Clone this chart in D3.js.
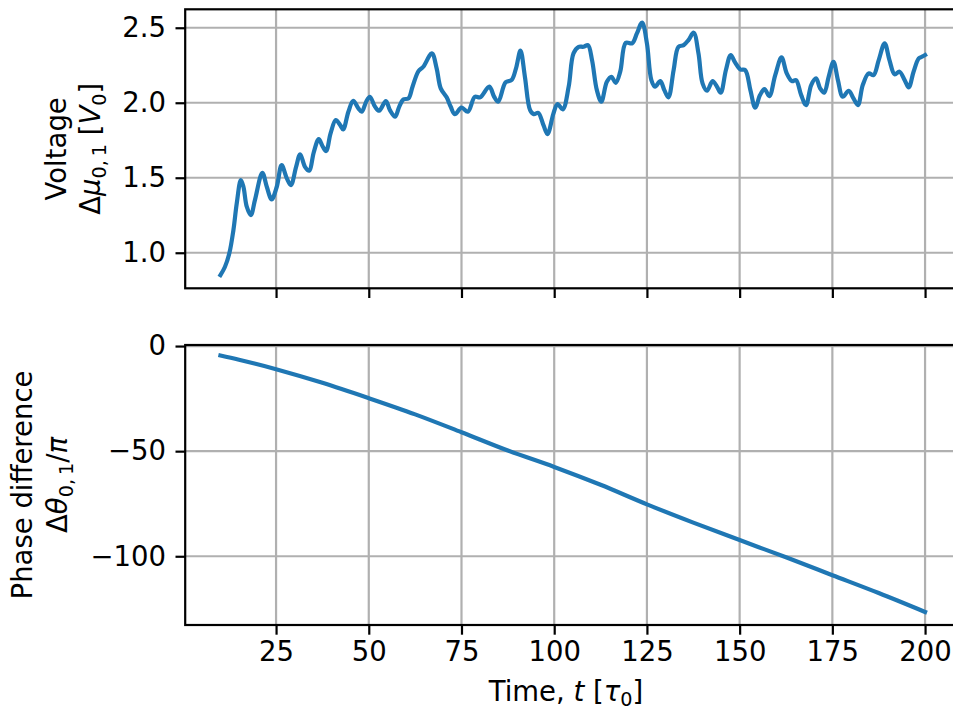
<!DOCTYPE html>
<html>
<head>
<meta charset="utf-8">
<script src="https://cdn.jsdelivr.net/npm/d3@7"></script>
<style>
  html, body { margin: 0; padding: 0; background: #ffffff; }
  svg { display: block; font-family: "DejaVu Sans", sans-serif; }
</style>
</head>
<body>
<svg id="chart" width="953" height="712"></svg>
<script>
// Voltage trace Δμ(0,1) over time
const voltTime = [10, 11.2, 12.4, 13.5, 14.4, 15.5, 16.2, 17.1, 18.2, 19.3, 21.3, 22.5, 23.8, 25.2, 26.5, 27.9, 29.0, 30.4, 31.5, 32.8, 33.9, 35.2, 36.5, 37.6, 38.5, 39.7, 41.1, 42.3, 43.1, 44.5, 45.8, 47.2, 48.1, 49.3, 50.3, 51.7, 52.8, 54.6, 55.7, 57.1, 58.2, 59.3, 60.7, 61.8, 63.4, 64.7, 67.0, 68.3, 69.4, 71.0, 72.1, 73.2, 75.0, 76.7, 78.6, 80.0, 82.5, 83.8, 84.9, 86.9, 88.5, 89.7, 90.9, 92.1, 93.5, 94.5, 95.7, 97.1, 98.2, 99.8, 100.9, 102.3, 103.9, 105.2, 106.6, 107.9, 109.1, 110.2, 111.5, 112.7, 114.2, 115.4, 116.6, 117.8, 119.3, 121.0, 122.3, 123.7, 125.0, 126.2, 127.2, 128.6, 129.7, 130.8, 132.2, 133.5, 134.9, 136.2, 137.6, 138.9, 140.0, 141.2, 142.7, 143.9, 144.9, 146.3, 147.6, 148.8, 150.2, 151.5, 152.9, 154.2, 155.5, 156.7, 158.0, 159.6, 161.3, 162.7, 164.1, 165.2, 166.6, 167.9, 169.3, 170.6, 171.7, 172.8, 174.0, 175.3, 176.5, 177.8, 179.4, 180.7, 181.9, 183.2, 184.8, 186.1, 187.5, 189.1, 190.4, 191.8, 193.1, 194.5, 195.6, 196.9, 198.3, 199.2, 200];
const voltage = [0.851, 0.905, 0.996, 1.151, 1.329, 1.484, 1.44, 1.307, 1.251, 1.351, 1.533, 1.44, 1.356, 1.44, 1.584, 1.496, 1.451, 1.573, 1.656, 1.573, 1.547, 1.673, 1.758, 1.707, 1.678, 1.796, 1.884, 1.851, 1.822, 1.94, 2.013, 1.962, 1.94, 2.007, 2.04, 1.973, 1.947, 2.011, 1.951, 1.907, 1.973, 2.022, 2.029, 2.107, 2.211, 2.24, 2.329, 2.229, 2.096, 2.036, 1.973, 1.924, 1.967, 1.94, 2.04, 2.036, 2.107, 2.04, 2.007, 2.136, 2.151, 2.229, 2.347, 2.173, 1.951, 1.924, 1.933, 1.851, 1.791, 1.929, 1.991, 1.956, 2.107, 2.329, 2.373, 2.373, 2.384, 2.284, 2.084, 2.007, 2.14, 2.173, 2.133, 2.207, 2.4, 2.396, 2.462, 2.535, 2.396, 2.151, 2.107, 2.144, 2.084, 2.036, 2.218, 2.373, 2.384, 2.418, 2.467, 2.329, 2.129, 2.08, 2.144, 2.107, 2.067, 2.218, 2.318, 2.267, 2.222, 2.218, 2.084, 1.967, 2.051, 2.091, 2.044, 2.184, 2.302, 2.196, 2.144, 2.151, 2.051, 1.984, 2.118, 2.162, 2.096, 2.067, 2.173, 2.273, 2.151, 2.04, 2.08, 2.029, 1.984, 2.118, 2.196, 2.184, 2.284, 2.396, 2.284, 2.189, 2.207, 2.151, 2.102, 2.207, 2.296, 2.307, 2.318];

// Phase difference Δθ(0,1)/π over time
const phaseTime = [10, 15, 25, 37.5, 50, 62.5, 75, 87.5, 100, 112.5, 125, 137.5, 150, 162.5, 175, 187.5, 200];
const phase = [-4.5, -6.5, -11, -17.5, -24.8, -32.5, -41, -49.7, -57.5, -66, -75.3, -84, -92.3, -100.5, -109, -117.5, -126.5];

// Tick values
const timeTicks = [25, 50, 75, 100, 125, 150, 175, 200];
const voltTicks = [1.0, 1.5, 2.0, 2.5];
const phaseTicks = [0, -50, -100];

const FONT = 27.5;
const LINE_COLOR = "#1f77b4";
const GRID_COLOR = "#b0b0b0";
const TICK_LEN = 9.7;

const svg = d3.select("#chart");

const left = 185.2, right = 960.3;
const x = d3.scaleLinear().domain([0.5, 209.5]).range([left, right]);

const panels = [
  { top: 9.3, bottom: 288.3, domain: [0.763, 2.623], ticks: voltTicks,
    fmt: d3.format(".1f"), xLabels: false,
    time: voltTime, values: voltage },
  { top: 345, bottom: 625, domain: [-132.7, 0.5], ticks: phaseTicks,
    fmt: d => (d < 0 ? "\u2212" + Math.abs(d) : String(d)), xLabels: true,
    time: phaseTime, values: phase }
];

panels.forEach((p, i) => {
  const y = d3.scaleLinear().domain(p.domain).range([p.bottom, p.top]);
  const g = svg.append("g");

  const clipId = "clip" + i;
  svg.append("clipPath").attr("id", clipId)
    .append("rect").attr("x", left).attr("y", p.top)
    .attr("width", right - left).attr("height", p.bottom - p.top);

  // grid
  const grid = g.append("g").attr("clip-path", `url(#${clipId})`);
  grid.selectAll("line.gx").data(timeTicks).join("line")
    .attr("x1", d => x(d)).attr("x2", d => x(d))
    .attr("y1", p.top).attr("y2", p.bottom)
    .attr("stroke", GRID_COLOR).attr("stroke-width", 2.2);
  grid.selectAll("line.gy").data(p.ticks).join("line")
    .attr("x1", left).attr("x2", right)
    .attr("y1", d => y(d)).attr("y2", d => y(d))
    .attr("stroke", GRID_COLOR).attr("stroke-width", 2.2);

  // data line
  const line = d3.line()
    .x((d, k) => x(p.time[k]))
    .y(d => y(d))
    .curve(d3.curveCatmullRom.alpha(0.5));
  g.append("path")
    .attr("d", line(p.values))
    .attr("fill", "none")
    .attr("stroke", LINE_COLOR)
    .attr("stroke-width", 4.2)
    .attr("stroke-linejoin", "round")
    .attr("stroke-linecap", "square");

  // x axis
  const xAxis = d3.axisBottom(x).tickValues(timeTicks)
    .tickSize(TICK_LEN).tickPadding(7)
    .tickFormat(p.xLabels ? d3.format("d") : () => "");
  const gx = g.append("g").attr("transform", `translate(0,${p.bottom})`).call(xAxis);
  gx.select(".domain").remove();
  gx.selectAll(".tick line").attr("stroke", "#000").attr("stroke-width", 2.2);
  gx.selectAll(".tick text").attr("font-size", FONT).attr("fill", "#000")
    .attr("font-family", "DejaVu Sans");

  // y axis
  const yAxis = d3.axisLeft(y).tickValues(p.ticks)
    .tickSize(TICK_LEN).tickPadding(9.5).tickFormat(p.fmt);
  const gy = g.append("g").attr("transform", `translate(${left},0)`).call(yAxis);
  gy.select(".domain").remove();
  gy.selectAll(".tick line").attr("stroke", "#000").attr("stroke-width", 2.2);
  gy.selectAll(".tick text").attr("font-size", FONT).attr("fill", "#000")
    .attr("font-family", "DejaVu Sans");

  // spines
  g.append("rect")
    .attr("x", left).attr("y", p.top)
    .attr("width", right - left).attr("height", p.bottom - p.top)
    .attr("fill", "none").attr("stroke", "#000").attr("stroke-width", 2.2);
});

// rotated two-line y labels with math-style parts
function yLabel(cx, cy, parts) {
  const t = svg.append("text")
    .attr("transform", `translate(${cx},${cy}) rotate(-90)`)
    .attr("text-anchor", "middle")
    .attr("font-size", FONT)
    .attr("fill", "#000");
  parts.forEach(([s, style]) => {
    const ts = t.append("tspan").text(s);
    if (style === "i") ts.attr("font-style", "italic");
    if (style === "sub") ts.attr("font-size", FONT * 0.7).attr("dy", 6);
    if (style === "up") ts.attr("dy", -6);
  });
  return t;
}

const c1 = (9.3 + 288.3) / 2;
yLabel(66, c1, [["Voltage"]]);
yLabel(100, c1, [["\u0394"], ["\u03bc", "i"], ["0,\u20091", "sub"], ["\u00a0[", "up"], ["V", "i"], ["0", "sub"], ["]", "up"]]);

const c2 = (345 + 625) / 2;
yLabel(32, c2, [["Phase difference"]]);
yLabel(67, c2, [["\u0394"], ["\u03b8", "i"], ["0,\u20091", "sub"], ["/", "up"], ["\u03c0", "i"]]);

// x label
const xl = svg.append("text")
  .attr("x", 566).attr("y", 701)
  .attr("text-anchor", "middle")
  .attr("font-size", FONT).attr("fill", "#000");
xl.append("tspan").text("Time, ");
xl.append("tspan").attr("font-style", "italic").text("t");
xl.append("tspan").text(" [");
xl.append("tspan").attr("font-style", "italic").text("\u03c4");
xl.append("tspan").attr("font-size", FONT * 0.7).attr("dy", 5).text("0");
xl.append("tspan").attr("dy", -5).text("]");
</script>
</body>
</html>
